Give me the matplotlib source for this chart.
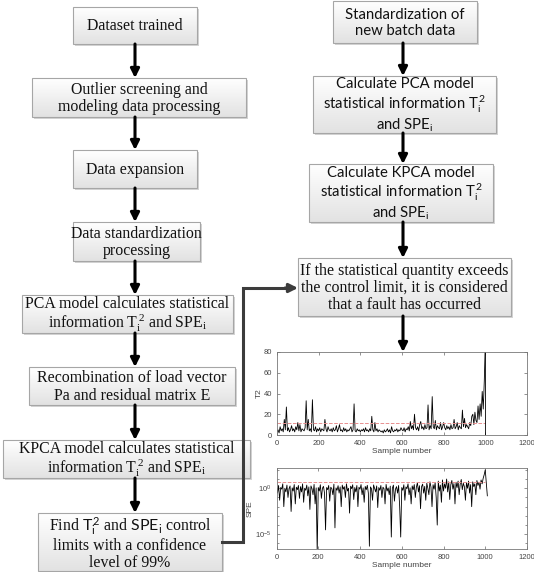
import numpy as np
import matplotlib
matplotlib.use("Agg")
import matplotlib.pyplot as plt
from matplotlib.patches import Rectangle
from matplotlib.colors import LinearSegmentedColormap
from matplotlib.ticker import FixedLocator, LogLocator, NullFormatter

plt.rcParams["mathtext.fontset"] = "custom"
plt.rcParams["mathtext.rm"] = "Liberation Serif"
plt.rcParams["mathtext.it"] = "Liberation Serif:italic"
plt.rcParams["mathtext.sf"] = "Lato"

## flowchart text
left_steps = [
    "Dataset trained",
    "Outlier screening and\nmodeling data processing",
    "Data expansion",
    "Data standardization\nprocessing",
    "PCA model calculates statistical\ninformation $\\mathrm{T_i^{\\,2}}$ and $\\mathrm{SPE_i}$",
    "Recombination of load vector\nPa and residual matrix E",
    "KPCA model calculates statistical\ninformation $\\mathrm{T_i^{\\,2}}$ and $\\mathrm{SPE_i}$",
    "Find $\\mathsf{T_i^{\\,2}}$ and $\\mathsf{SPE_i}$ control\nlimits with a confidence\nlevel of 99%",
]
right_steps = [
    "Standardization of\nnew batch data",
    "Calculate PCA model\nstatistical information $\\mathsf{T_i^{\\,2}}$\nand $\\mathsf{SPE_i}$",
    "Calculate KPCA model\nstatistical information $\\mathsf{T_i^{\\,2}}$\nand $\\mathsf{SPE_i}$",
    "If the statistical quantity exceeds\nthe control limit, it is considered\nthat a fault has occurred",
]
right_serif = [False, False, False, True]

## monitoring data (one value every 5 samples)
t2_values = [
    3, 5, 2, 8, 4, 6, 3, 15, 5, 27, 4, 7, 3, 5, 9, 4, 6, 3, 8, 5,
    12, 4, 10, 3, 6, 5, 4, 7, 33, 5, 15, 4, 6, 3, 34, 5, 4, 8, 3, 6,
    4, 7, 3, 6, 5, 4, 15, 6, 3, 8, 5, 4, 6, 3, 7, 4, 5, 9, 3, 6,
    10, 4, 5, 3, 7, 4, 6, 3, 5, 4, 6, 8, 3, 5, 30, 4, 3, 6, 4, 5,
    3, 5, 4, 6, 3, 7, 4, 5, 3, 6, 4, 18, 5, 3, 12, 4, 6, 3, 5, 4,
    3, 4, 2, 5, 3, 4, 6, 3, 5, 2, 8, 4, 3, 5, 4, 6, 3, 5, 4, 7,
    5, 4, 7, 3, 6, 5, 8, 4, 13, 6, 9, 5, 20, 7, 5, 8, 4, 10, 13, 6,
    8, 5, 10, 6, 7, 29, 5, 9, 6, 37, 8, 6, 14, 5, 9, 7, 6, 12, 5, 8,
    12, 7, 5, 9, 6, 8, 5, 10, 6, 7, 15, 6, 8, 12, 5, 9, 7, 6, 24, 8,
    16, 7, 10, 8, 6, 12, 9, 18, 20, 10, 22, 14, 12, 28, 15, 30, 18, 42, 25, 52,
    90,
]
spe_values = [
    1.5, 0.3, 2.0, 0.05, 1.2, 0.8, 3.0, 0.01, 1.0, 0.4, 2.2, 0.1, 0.9, 1.8, 0.003, 1.1, 0.5, 2.5, 0.02, 1.3,
    0.7, 2.0, 0.08, 1.5, 0.4, 3.0, 0.03, 1.0, 0.6, 2.2, 0.15, 1.4, 0.005, 1.8, 0.9, 0.2, 2.6, 0.02, 1.1, 1e-7,
    1.2, 0.5, 2.4, 0.08, 1.0, 1.6, 0.3, 3e-5, 1.2, 0.7, 2.0, 0.04, 1.3, 0.9, 0.2, 2.8, 5e-5, 1.1, 0.6, 1.9,
    0.3, 1.4, 0.01, 2.2, 0.8, 1.5, 0.1, 3.0, 0.5, 1.0, 0.002, 1.7, 0.9, 2.4, 0.06, 1.2, 0.4, 2.0, 0.01, 1.3,
    0.8, 2.5, 0.2, 1.1, 0.03, 1.6, 0.7, 2.1, 0.3, 5e-7, 1.4, 0.9, 0.05, 2.3, 1.0, 0.4, 1.8, 0.008, 1.2, 0.6,
    2.0, 0.1, 1.3, 0.9, 0.02, 2.6, 0.5, 1.1, 0.2, 1.7, 5e-6, 1.0, 2.2, 0.04, 0.8, 1.5, 0.3, 2.0, 0.01, 5e-6,
    1.2, 0.6, 2.4, 0.05, 1.4, 0.9, 3.0, 0.2, 1.1, 0.02, 1.8, 0.7, 2.5, 0.1, 1.3, 4.0, 0.4, 1.9, 0.006, 1.5,
    2.8, 0.3, 1.6, 0.05, 3.5, 1.0, 0.2, 5.0, 1.3, 0.01, 2.4, 0.8, 4.0, 0.1, 1e-4, 6.0, 0.5, 2.2, 0.03, 8.0,
    0.5, 3.0, 1.0, 10.0, 0.4, 5.0, 0.06, 2.5, 7.0, 0.8, 3.2, 0.02, 4.5, 1.2, 6.0, 0.2, 2.8, 9.0, 0.7, 3.5,
    1.5, 0.05, 4.0, 1.0, 6.0, 0.3, 2.5, 0.01, 5.0, 1.5, 3.0, 0.2, 7.0, 2.0, 4.5, 0.8, 8.0, 3.0, 12.0, 30.0,
    100.0, 0.15,
]
t2_x = np.arange(0, 1001, 5)
spe_x = np.append(np.arange(0, 1001, 5), 1010)
t2_limit = 12
spe_limit = 4.5
fault_sample = 1000

################################################################################
## flowchart layer (pixel coordinates)
################################################################################
fig = plt.figure(figsize=(5.34, 5.72), dpi=100)
bg = fig.add_axes([0, 0, 1, 1])
grad_cmap = LinearSegmentedColormap.from_list("boxgrad", ["#ffffff", "#e2e2e2"])
grad = np.linspace(0, 1, 64).reshape(-1, 1)

left_boxes = [(73, 7, 197, 44), (32, 78, 246, 117), (73, 150, 197, 188),
              (73, 222, 200, 261), (22, 295, 233, 333), (29, 367, 235, 405),
              (3, 440, 250, 478), (38, 513, 222, 571)]
right_boxes = [(333, 1, 477, 43), (313, 76, 496, 133), (309, 164, 493, 222),
               (298, 258, 511, 316)]


def draw_box(b, text, family, size, spacing):
    x0, y0, x1, y1 = b
    bg.add_patch(Rectangle((x0 + 2, y0 + 2), x1 - x0, y1 - y0, color="#d4d4d4", lw=0, zorder=1))
    bg.imshow(grad, extent=(x0, x1, y1, y0), cmap=grad_cmap, aspect="auto", zorder=2)
    bg.add_patch(Rectangle((x0, y0), x1 - x0, y1 - y0, fill=False, ec="#a6a6a6", lw=0.8, zorder=3))
    bg.text((x0 + x1) / 2, (y0 + y1) / 2 + 1, text, ha="center", va="center",
            family=family, fontsize=size, color="#111111", linespacing=spacing, zorder=4)


def down_arrow(x, ya, yb):
    bg.annotate("", xy=(x, yb), xytext=(x, ya),
                arrowprops=dict(arrowstyle="-|>", lw=2.2, color="k",
                                mutation_scale=13, shrinkA=0, shrinkB=0), zorder=5)


for b, t in zip(left_boxes, left_steps):
    draw_box(b, t, "Liberation Serif", 11.4, 1.1)
for b, t, serif in zip(right_boxes, right_steps, right_serif):
    if serif:
        draw_box(b, t, "Liberation Serif", 11.4, 1.1)
    else:
        draw_box(b, t, "Lato", 10.7, 1.15)

for a, b in zip(left_boxes[:-1], left_boxes[1:]):
    down_arrow(135, a[3], b[1])
for a, b in zip(right_boxes[:-1], right_boxes[1:]):
    down_arrow(403, a[3], b[1])
down_arrow(403, right_boxes[-1][3], 352)

# connector from the control-limit box to the decision box
bg.plot([222, 243, 243, 290], [542, 542, 288, 288], color="#3c3c3c", lw=2.2,
        solid_joinstyle="miter", zorder=5)
bg.annotate("", xy=(298, 288), xytext=(285, 288),
            arrowprops=dict(arrowstyle="-|>", lw=2.2, color="#3c3c3c",
                            mutation_scale=13, shrinkA=0, shrinkB=0), zorder=5)

bg.set_xlim(0, 534)
bg.set_ylim(572, 0)
bg.axis("off")

################################################################################
## monitoring charts
################################################################################
tick_kw = dict(direction="in", labelsize=5.5, length=2, width=0.5,
               colors="#666666", labelcolor="#444444", top=True, right=True)

ax1 = fig.add_axes([277 / 534, 1 - 435 / 572, 250 / 534, 83 / 572])
ax1.plot(t2_x, t2_values, color="k", lw=0.6)
ax1.hlines(t2_limit, 0, fault_sample, colors="#e89090", linestyles="--", lw=0.7)
ax1.axvline(fault_sample, color="k", lw=0.6)
ax1.set_xlim(0, 1200)
ax1.set_ylim(0, 80)
ax1.set_xticks(range(0, 1201, 200))
ax1.set_yticks(range(0, 81, 20))
ax1.tick_params(**tick_kw)
ax1.set_xlabel("Sample number", fontsize=6, color="#444444", labelpad=1, family="Liberation Sans")
ax1.set_ylabel("T2", fontsize=6, color="#444444", labelpad=1, family="Liberation Sans")

ax2 = fig.add_axes([276.5 / 534, 1 - 549 / 572, 250.5 / 534, 81 / 572])
ax2.plot(spe_x, spe_values, color="k", lw=0.6)
ax2.hlines(spe_limit, 0, fault_sample, colors="#e89090", linestyles="--", lw=0.7)
ax2.set_yscale("log")
ax2.set_xlim(0, 1200)
ax2.set_ylim(10 ** -6.6, 10 ** 2.2)
ax2.set_xticks(range(0, 1201, 200))
ax2.yaxis.set_major_locator(FixedLocator([1e-5, 1e0]))
ax2.yaxis.set_minor_locator(LogLocator(base=10, subs=(1.0,), numticks=20))
ax2.yaxis.set_minor_formatter(NullFormatter())
ax2.tick_params(**tick_kw)
ax2.tick_params(which="minor", direction="in", length=1.5, width=0.5, colors="#666666", right=True)
ax2.set_xlabel("Sample number", fontsize=6, color="#444444", labelpad=1, family="Liberation Sans")
ax2.set_ylabel("SPE", fontsize=6, color="#444444", labelpad=1, family="Liberation Sans")

for ax in (ax1, ax2):
    for s in ax.spines.values():
        s.set_color("#777777")
        s.set_linewidth(0.6)
    for lab in ax.get_xticklabels() + ax.get_yticklabels():
        lab.set_family("Liberation Sans")

fig.savefig("out.png", dpi=100)
